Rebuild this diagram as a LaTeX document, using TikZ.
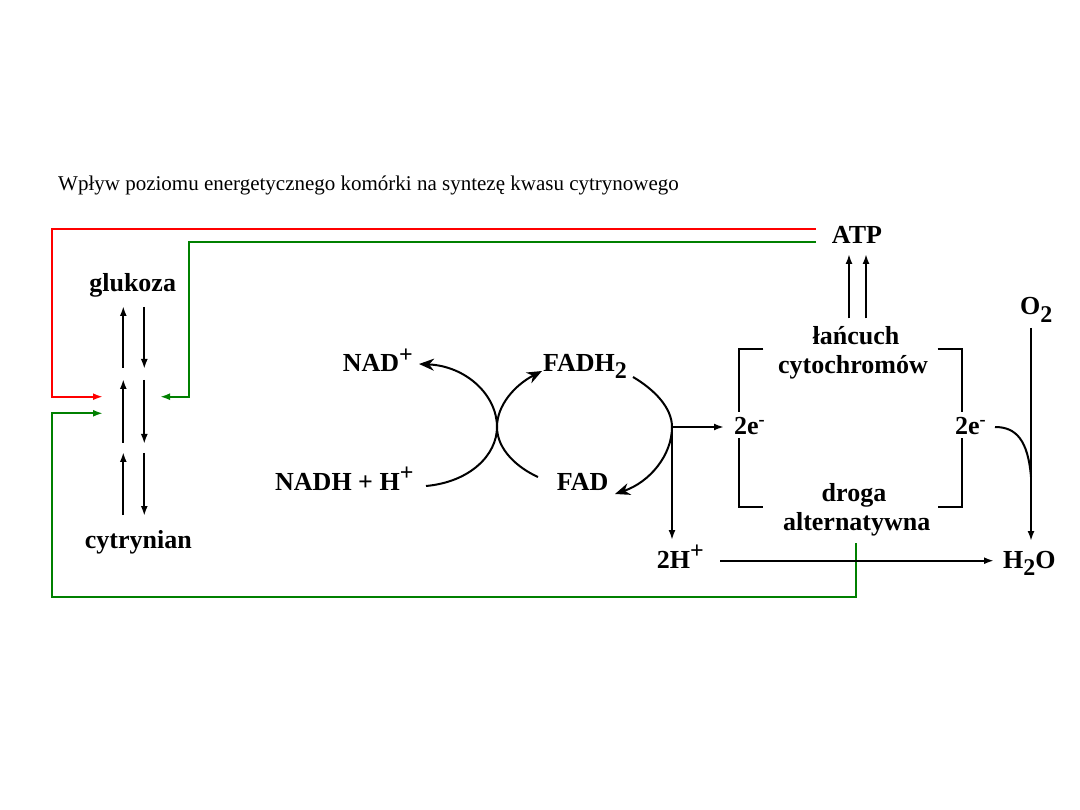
\documentclass[tikz,border=0pt]{standalone}
\usepackage{fontspec}
\setmainfont{Liberation Serif}
\usetikzlibrary{arrows.meta}
\definecolor{fbred}{RGB}{255,0,0}
\definecolor{fbgreen}{RGB}{0,128,0}
\newcommand{\supp}[1]{\raisebox{0.36em}{\fontsize{24}{24}\selectfont #1}}
\newcommand{\subb}[1]{\raisebox{-0.28em}{\fontsize{24}{24}\selectfont #1}}
\begin{document}
\begin{tikzpicture}[x=1pt,y=-1pt,
  lbl/.style={font=\fontsize{26}{28}\selectfont\bfseries, inner sep=0pt},
  ttl/.style={font=\fontsize{21}{24}\selectfont, inner sep=0pt},
  ln/.style={line width=2pt},
  arr/.style={ln, -{Latex[length=10pt,width=7pt]}},
  carr/.style={ln, -{Stealth[length=15pt,width=12pt]}},
  redl/.style={line width=2pt, fbred},
  grnl/.style={line width=2pt, fbgreen}]
\useasboundingbox (0,0) rectangle (1080,810);
\fill[white] (0,0) rectangle (1080,810);

% title
\node[ttl, anchor=base west] (title) at (58,191) {Wpływ poziomu energetycznego komórki na syntezę kwasu cytrynowego};

% labels
\node[lbl, anchor=base] (gluk) at (132.7,291.7) {glukoza};
\node[lbl, anchor=base] (cytr) at (138.3,548.3) {cytrynian};
\node[lbl, anchor=base west] (nad) at (342.7,371.7) {NAD\supp{+}};
\node[lbl, anchor=base west] (fadh) at (543,371.7) {FADH\subb{2}};
\node[lbl, anchor=base west] (nadh) at (275,490) {NADH + H\supp{+}};
\node[lbl, anchor=base west] (fad) at (556.7,490) {FAD};
\node[lbl, anchor=base west] (atp) at (831.7,244) {ATP};
\node[lbl, anchor=base west] (o2) at (1020,315) {O\subb{2}};
\node[lbl, anchor=base] (lan) at (856,345) {łańcuch};
\node[lbl, anchor=base] (cyto) at (853,373.3) {cytochromów};
\node[lbl, anchor=base west] (el) at (734,435) {2e\textsuperscript{-}};
\node[lbl, anchor=base west] (er) at (955,435) {2e\textsuperscript{-}};
\node[lbl, anchor=base] (drog) at (854,501.7) {droga};
\node[lbl, anchor=base] (alt) at (856.7,530) {alternatywna};
\node[lbl, anchor=base west] (hp) at (656.7,568) {2H\supp{+}};
\node[lbl, anchor=base west] (h2o) at (1003,568) {H\subb{2}O};

% coordinates
\coordinate (mid) at (672,427);
\coordinate (j) at (1031,477);

% left stacked arrows
\foreach \a/\b in {368/306, 443/379, 515/452}
  \draw[arr] (123.3,\a) -- (123.3,\b);
\foreach \a/\b in {307/369, 380/444, 453/516}
  \draw[arr] (144.3,\a) -- (144.3,\b);

% red feedback
\coordinate (rs) at (816,229);
\coordinate (rt) at (103,396.7);
\draw[redl, -{Latex[length=10pt,width=7pt]}] (rs) -- (51.7,229) -- (51.7,396.7) -- (rt);
% green feedback (top)
\coordinate (gs) at (816,242.3);
\coordinate (gt) at (160,396.7);
\draw[grnl, -{Latex[length=10pt,width=7pt]}] (gs) -- (189.3,242.3) -- (189.3,396.7) -- (gt);
% green feedback (bottom)
\coordinate (gbs) at (856,543);
\coordinate (gbt) at (103,413.3);
\draw[grnl, -{Latex[length=10pt,width=7pt]}] (gbs) -- (856,596.7) -- (51.7,596.7) -- (51.7,413.3) -- (gbt);

% ATP arrows
\draw[arr] (849,318.3) -- (849,254);
\draw[arr] (866,318.3) -- (866,254);

% cycle curves
\coordinate (c1s) at (426,486);
\coordinate (c1e) at (419,364);
\draw[carr] (c1s) .. controls (470,482) and (497,455) .. (497,427)
  .. controls (497,395) and (466,366) .. (c1e);
\coordinate (c2s) at (538,477);
\coordinate (c2e) at (542,371);
\draw[carr] (c2s) .. controls (518,468) and (497,450) .. (497,427)
  .. controls (497,405) and (515,385) .. (c2e);
\coordinate (c3s) at (633,377);
\coordinate (c3e) at (615,494);
\draw[carr] (c3s) .. controls (655,390) and (672,408) .. (mid)
  .. controls (672,455) and (650,482) .. (c3e);

% branches from mid
\draw[arr] (mid) -- (724,427);
\draw[arr] (mid) -- (672,540);

% brackets
\draw[ln] (763.3,349.3) -- (739.3,349.3) -- (739.3,411.7);
\draw[ln] (739.3,438.3) -- (739.3,506.7) -- (763.3,506.7);
\draw[ln] (937.7,349.3) -- (961.7,349.3) -- (961.7,411.7);
\draw[ln] (961.7,438.3) -- (961.7,506.7) -- (937.7,506.7);

% O2 -> H2O
\coordinate (o2b) at (1031,328);
\coordinate (h2t) at (1031,541);
\draw[arr] (o2b) -- (h2t);
\coordinate (ers) at (995,427);
\draw[ln] (ers) .. controls (1016,427) and (1028,440) .. (j);

% 2H+ -> H2O
\coordinate (hps) at (720,560.7);
\coordinate (hpe) at (994,560.7);
\draw[arr] (hps) -- (hpe);
\end{tikzpicture}
\end{document}
